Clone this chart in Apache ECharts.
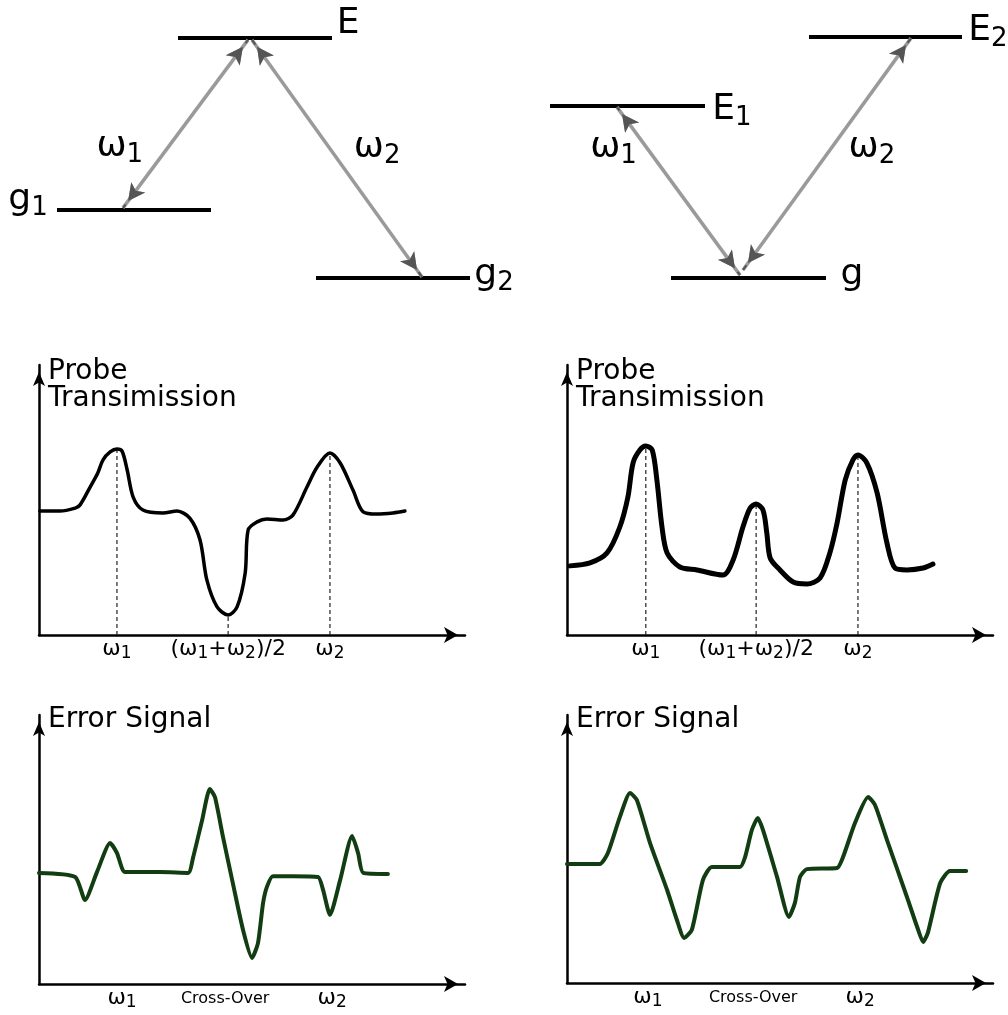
<!DOCTYPE html>
<html>
<head>
<meta charset="utf-8">
<script src="https://cdn.jsdelivr.net/npm/echarts@6/dist/echarts.min.js"></script>
<style>
  html, body { margin: 0; padding: 0; background: #ffffff; }
  #chart { width: 1008px; height: 1015px; }
</style>
</head>
<body>
<div id="chart"></div>
<script>
// ---------- Lambda scheme: two ground states, one excited state ----------
const lambdaLevelNames  = ['E', 'g₁', 'g₂'];
const lambdaLevelStart  = [3.56, 1.14, 6.32];
const lambdaLevelEnd    = [6.64, 4.22, 9.40];
const lambdaLevelEnergy = [8.73, 3.00, 0.73];
const lambdaTransitionNames = ['ω₁', 'ω₂'];
const lambdaTransitionUpper = [[4.96, 8.67], [5.04, 8.67]];
const lambdaTransitionLower = [[2.46, 3.07], [8.44, 0.77]];

// ---------- Ladder (V) scheme: one ground state, two excited states ----------
const ladderLevelNames  = ['E₁', 'E₂', 'g'];
const ladderLevelStart  = [0.92, 6.10, 3.34];
const ladderLevelEnd    = [4.02, 9.16, 6.44];
const ladderLevelEnergy = [6.47, 8.77, 0.73];
const ladderTransitionNames = ['ω₁', 'ω₂'];
const ladderTransitionUpper = [[2.26, 6.43], [8.14, 8.73]];
const ladderTransitionLower = [[4.72, 0.83], [4.78, 1.00]];

// ---------- Probe transmission spectra ----------
const probeLambdaX = [0.2, 4.9, 8.5, 9.6, 12.0, 13.8, 15.0, 16.7, 18.3, 19.5, 20.7, 22.1, 24.4, 29.1, 32.4, 35.4, 37.8, 39.4, 41.8, 44.4, 46.5, 48.4, 49.1, 51.2, 53.5, 57.3, 59.6, 62.9, 65.3, 68.3, 70.7, 73.7, 76.1, 79.3, 83.1, 85.9];
const probeLambdaY = [45.9, 45.9, 47.0, 48.1, 54.8, 60.0, 64.8, 67.8, 68.9, 68.1, 61.1, 51.1, 46.3, 45.2, 45.9, 43.3, 35.2, 20.4, 10.4, 7.4, 10.4, 23.0, 38.9, 41.9, 43.0, 42.6, 44.4, 54.8, 62.2, 67.4, 63.7, 53.7, 45.6, 44.8, 45.2, 45.9];
const probeLambdaResonances = [8, 19, 29];

const probeLadderX = [0.7, 5.4, 9.4, 12.4, 14.3, 15.5, 17.1, 18.5, 20.0, 21.1, 22.3, 23.5, 26.5, 30.5, 36.6, 39.0, 41.3, 43.0, 44.4, 46.0, 46.9, 47.7, 50.0, 53.1, 56.3, 59.4, 61.7, 63.4, 65.3, 67.1, 68.3, 70.4, 72.8, 75.1, 77.0, 79.8, 83.6, 85.9];
const probeLadderY = [25.6, 26.7, 30.4, 40.0, 51.1, 63.7, 68.5, 70.0, 68.5, 57.4, 40.0, 30.4, 25.2, 24.1, 22.2, 27.8, 40.0, 47.0, 48.5, 46.3, 37.8, 28.5, 24.1, 19.6, 18.9, 21.1, 30.4, 41.5, 57.4, 64.8, 66.7, 63.7, 52.6, 34.1, 24.8, 24.1, 24.8, 26.3];
const probeLadderResonances = [7, 18, 30];

const probeTickLabels = ['ω₁', '(ω₁+ω₂)/2', 'ω₂'];

// ---------- Error signals ----------
const errorLambdaX = [0, 8.5, 10.8, 13.6, 16.7, 18.3, 20.2, 28.4, 35.0, 36.2, 38.3, 40.1, 41.3, 43.2, 45.5, 47.9, 50.0, 51.4, 52.6, 53.5, 54.9, 59.6, 65.5, 66.7, 68.3, 70.7, 73.5, 74.9, 76.1, 81.9];
const errorLambdaY = [41.3, 39.8, 31.2, 41.6, 52.4, 48.7, 41.6, 41.6, 41.3, 47.2, 61.0, 72.5, 69.5, 54.6, 37.5, 20.1, 9.7, 15.2, 30.1, 36.1, 40.1, 40.1, 39.8, 34.9, 25.7, 38.7, 55.0, 48.7, 41.3, 40.9];
const errorLambdaTicks = [19.5, 43.7, 68.8];

const errorLadderX = [0, 7.7, 9.6, 12.4, 14.8, 16.4, 19.5, 23.5, 25.8, 27.5, 29.3, 31.9, 34.0, 40.6, 41.8, 43.4, 44.8, 46.0, 49.3, 52.1, 53.5, 54.7, 56.3, 63.4, 64.8, 67.6, 70.7, 72.3, 75.1, 79.8, 82.2, 83.6, 84.7, 87.6, 89.9, 93.7];
const errorLadderY = [44.4, 44.4, 48.5, 61.9, 70.9, 68.3, 52.2, 34.7, 23.5, 16.8, 19.8, 38.4, 43.3, 43.3, 47.0, 57.1, 61.6, 57.1, 39.6, 24.6, 29.9, 39.6, 42.5, 42.9, 47.0, 59.7, 69.4, 66.4, 53.4, 32.1, 20.9, 15.3, 18.7, 37.3, 41.8, 41.8];
const errorLadderTicks = [19.0, 43.7, 68.8];

const errorTickLabels = ['ω₁', 'Cross-Over', 'ω₂'];

// ---------- styling ----------
const FONT = 'DejaVu Sans';
const BLACK = '#000000';
const GREEN = '#123d12';
const SHAFT = '#9a9a9a';
const HEAD = '#555555';
const smallTickLabels = new Set(['Cross-Over']);
const ARROW_SIZE = [13, 17];
const ARROW_BACK = [0, 8.5];

// label placement relative to its anchor (pixels)
const levelLabelSide = { 'g₁': 'left' };
const levelLabelOffset = { 'E': [16, -14], 'g₁': [-29, -10], 'g₂': [24, -3], 'E₁': [27, 4], 'E₂': [26, -6], 'g': [26, -3] };
const transitionLabelStyle = {
  lambda: [{ t: 0.65, offset: [-47, -2] }, { t: 0.46, offset: [47, -1] }],
  ladder: [{ t: 0.256, offset: [-35, -2] }, { t: 0.483, offset: [42, -2] }]
};

// Unicode subscript digits become a smaller, lowered rich-text run
const SUBS = '₀₁₂₃₄₅₆₇₈₉';
function toRich(text, main, sub) {
  let out = '', buf = '';
  for (const ch of text) {
    const d = SUBS.indexOf(ch);
    if (d >= 0) {
      if (buf) { out += '{' + main + '|' + buf + '}'; buf = ''; }
      out += '{' + sub + '|' + d + '}';
    } else {
      buf += ch;
    }
  }
  if (buf) out += '{' + main + '|' + buf + '}';
  return out;
}

const plainText = { color: BLACK, textBorderWidth: 0, textShadowBlur: 0 };
const richTop = {
  m: Object.assign({ fontFamily: FONT, fontSize: 36, lineHeight: 42 }, plainText),
  s: Object.assign({ fontFamily: FONT, fontSize: 26, lineHeight: 18, verticalAlign: 'bottom' }, plainText)
};
const richTick = {
  m: Object.assign({ fontFamily: FONT, fontSize: 22, lineHeight: 25 }, plainText),
  s: Object.assign({ fontFamily: FONT, fontSize: 17, lineHeight: 9, verticalAlign: 'bottom' }, plainText),
  c: Object.assign({ fontFamily: FONT, fontSize: 16, lineHeight: 25 }, plainText)
};

const zip = (xs, ys) => xs.map((x, i) => [x, ys[i]]);
const lerp = (a, b, t) => [a[0] + (b[0] - a[0]) * t, a[1] + (b[1] - a[1]) * t];

// ---------- layout ----------
const grids = [
  { left: 0,   top: 0,   width: 500, height: 300 },
  { left: 504, top: 0,   width: 500, height: 300 },
  { left: 39,  top: 365, width: 426, height: 270 },
  { left: 567, top: 365, width: 426, height: 270 },
  { left: 39,  top: 715, width: 426, height: 269 },
  { left: 567, top: 715, width: 426, height: 268 }
].map(g => Object.assign({ outerBoundsMode: 'none', containLabel: false }, g));

const xAxes = [];
const yAxes = [];
for (let i = 0; i < 2; i++) {
  xAxes.push({ type: 'value', gridIndex: i, min: 0, max: 10, show: false });
  yAxes.push({ type: 'value', gridIndex: i, min: 0, max: 10, show: false });
}

function plotAxes(gi, title, nameGap, tickValues, tickLabels) {
  xAxes.push({
    type: 'value', gridIndex: gi, min: 0, max: 100,
    splitLine: { show: false }, axisTick: { show: false },
    axisLine: { show: true, symbol: ['none', 'arrow'], symbolSize: [12, 14], symbolOffset: [0, -7],
                lineStyle: { color: BLACK, width: 2.5 } },
    axisLabel: {
      show: true, customValues: tickValues, margin: 2, rich: richTick,
      formatter: function (v) {
        let k = 0;
        tickValues.forEach((t, j) => { if (Math.abs(t - v) < Math.abs(tickValues[k] - v)) k = j; });
        const txt = tickLabels[k];
        return toRich(txt, smallTickLabels.has(txt) ? 'c' : 'm', 's');
      }
    }
  });
  yAxes.push({
    type: 'value', gridIndex: gi, min: 0, max: 100,
    splitLine: { show: false }, axisTick: { show: false }, axisLabel: { show: false },
    axisLine: { show: true, symbol: ['none', 'arrow'], symbolSize: [9, 14], symbolOffset: [0, -7],
                lineStyle: { color: BLACK, width: 2.5 } },
    name: title, nameLocation: 'end', nameGap: nameGap,
    nameTextStyle: { fontFamily: FONT, fontSize: 28, lineHeight: 27, color: BLACK,
                     align: 'left', verticalAlign: 'top', padding: [0, 0, 0, 9] }
  });
}

const series = [];

function schemeSeries(gi, names, starts, ends, energies, tNames, uppers, lowers, tStyle) {
  // energy levels
  names.forEach((n, i) => {
    series.push({
      type: 'line', xAxisIndex: gi, yAxisIndex: gi, silent: true, symbol: 'none', z: 4,
      data: [[starts[i], energies[i]], [ends[i], energies[i]]],
      lineStyle: { color: BLACK, width: 4, cap: 'butt' }
    });
  });
  // transition shafts (grey, double headed)
  series[series.length - names.length].markLine = {
    silent: true, animation: false, symbol: ['arrow', 'arrow'], symbolSize: ARROW_SIZE,
    symbolOffset: [ARROW_BACK, ARROW_BACK],
    label: { show: false }, lineStyle: { color: SHAFT, width: 3.5, type: 'solid' },
    data: uppers.map((u, i) => [{ coord: u }, { coord: lowers[i] }])
  };
  // darker arrow heads at both ends
  const heads = [];
  uppers.forEach((u, i) => {
    heads.push([{ coord: lerp(u, lowers[i], 0.02) }, { coord: u }]);
    heads.push([{ coord: lerp(lowers[i], u, 0.02) }, { coord: lowers[i] }]);
  });
  series[series.length - names.length + 1].markLine = {
    silent: true, animation: false, symbol: ['none', 'arrow'], symbolSize: ARROW_SIZE,
    symbolOffset: [[0, 0], ARROW_BACK],
    label: { show: false }, lineStyle: { color: HEAD, width: 2, type: 'solid' },
    data: heads
  };
  // level and transition labels
  const labelData = names.map((n, i) => ({
    name: n,
    value: [levelLabelSide[n] === 'left' ? starts[i] : ends[i], energies[i]],
    label: { offset: levelLabelOffset[n] }
  })).concat(tNames.map((n, i) => ({
    name: n,
    value: lerp(uppers[i], lowers[i], tStyle[i].t),
    label: { offset: tStyle[i].offset }
  })));
  series.push({
    type: 'scatter', xAxisIndex: gi, yAxisIndex: gi, silent: true, symbolSize: 0, z: 6,
    itemStyle: { color: BLACK, opacity: 1 },
    data: labelData,
    label: Object.assign({ show: true, position: 'inside', align: 'center', verticalAlign: 'middle',
             formatter: p => toRich(p.name, 'm', 's'), rich: richTop }, plainText)
  });
}

function spectrumSeries(gi, xs, ys, color, width, smooth, marks) {
  (marks || []).forEach(k => {
    series.push({
      type: 'line', xAxisIndex: gi, yAxisIndex: gi, silent: true, symbol: 'none', z: 2,
      data: [[xs[k], 0], [xs[k], ys[k]]],
      lineStyle: { color: '#222222', width: 1.2, type: [4, 3] }
    });
  });
  series.push({
    type: 'line', xAxisIndex: gi, yAxisIndex: gi, silent: true, symbol: 'none', z: 3,
    smooth: smooth, data: zip(xs, ys),
    lineStyle: { color: color, width: width, cap: 'round', join: 'round' }
  });
}

schemeSeries(0, lambdaLevelNames, lambdaLevelStart, lambdaLevelEnd, lambdaLevelEnergy,
             lambdaTransitionNames, lambdaTransitionUpper, lambdaTransitionLower, transitionLabelStyle.lambda);
schemeSeries(1, ladderLevelNames, ladderLevelStart, ladderLevelEnd, ladderLevelEnergy,
             ladderTransitionNames, ladderTransitionUpper, ladderTransitionLower, transitionLabelStyle.ladder);

plotAxes(2, 'Probe\nTransimission', 7, probeLambdaResonances.map(k => probeLambdaX[k]), probeTickLabels);
plotAxes(3, 'Probe\nTransimission', 7, probeLadderResonances.map(k => probeLadderX[k]), probeTickLabels);
plotAxes(4, 'Error Signal', 9, errorLambdaTicks, errorTickLabels);
plotAxes(5, 'Error Signal', 9, errorLadderTicks, errorTickLabels);

spectrumSeries(2, probeLambdaX, probeLambdaY, BLACK, 3.5, 0.3, probeLambdaResonances);
spectrumSeries(3, probeLadderX, probeLadderY, BLACK, 5, 0.3, probeLadderResonances);
spectrumSeries(4, errorLambdaX, errorLambdaY, GREEN, 4, 0.2);
spectrumSeries(5, errorLadderX, errorLadderY, GREEN, 4, 0.2);

const chart = echarts.init(document.getElementById('chart'));
chart.setOption({
  backgroundColor: '#ffffff',
  animation: false,
  textStyle: { fontFamily: FONT },
  grid: grids,
  xAxis: xAxes,
  yAxis: yAxes,
  series: series
});
</script>
</body>
</html>
